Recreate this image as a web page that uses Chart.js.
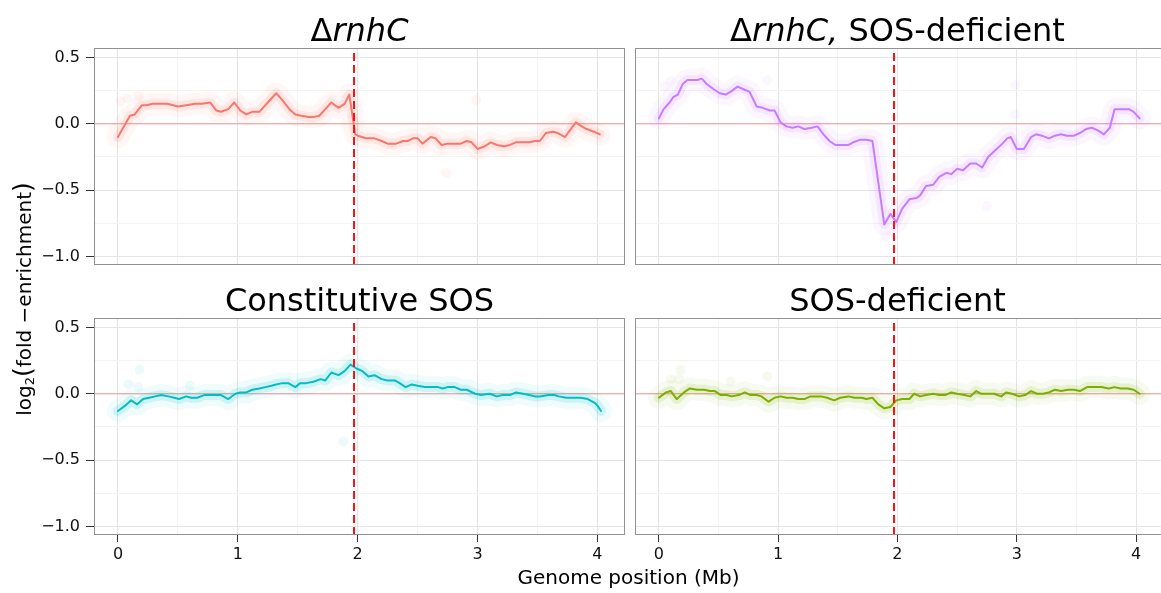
<!DOCTYPE html>
<html>
<head>
<meta charset="utf-8">
<title>log2 fold-enrichment along the genome</title>
<script src="https://cdn.jsdelivr.net/npm/chart.js@4.4.1/dist/chart.umd.min.js"></script>
<style>
  html, body { margin: 0; padding: 0; background: #ffffff; }
  #figure { position: relative; width: 1161px; height: 593px; overflow: hidden; background: #ffffff;
            font-family: "DejaVu Sans", sans-serif; color: #000; }
  #figure canvas { position: absolute; }
  .strip { position: absolute; width: 531px; text-align: center; font-size: 32px; line-height: 32px; white-space: nowrap; }
  #xtitle { position: absolute; left: 94px; width: 1069px; top: 567px; text-align: center;
            font-size: 20px; line-height: 20px; white-space: nowrap; }
  #ytitle { position: absolute; left: -177px; top: 287px; width: 400px; height: 24px; line-height: 24px;
            font-size: 20px; text-align: center; white-space: nowrap; transform: rotate(-90deg); }
  #ytitle sub { font-size: 13px; vertical-align: -3px; }
  #ytitle .paren { font-size: 25px; }
</style>
</head>
<body>
<div id="figure">
  <canvas id="pTL" width="630" height="285" style="left:0;top:0"></canvas>
  <canvas id="pTR" width="540" height="285" style="left:630px;top:0"></canvas>
  <canvas id="pBL" width="630" height="323" style="left:0;top:270px"></canvas>
  <canvas id="pBR" width="540" height="323" style="left:630px;top:270px"></canvas>

  <div class="strip" style="left:94px;top:14px">Δ<i>rnhC</i></div>
  <div class="strip" style="left:632px;top:14px">Δ<i>rnhC,</i> SOS-deficient</div>
  <div class="strip" style="left:94px;top:284px">Constitutive SOS</div>
  <div class="strip" style="left:632px;top:284px">SOS-deficient</div>

  <div id="xtitle">Genome position (Mb)</div>
  <div id="ytitle">log<sub>2</sub><span class="paren">(</span>fold −enrichment<span class="paren">)</span></div>
</div>

<script>
// ---- data: smoothed log2 fold-enrichment along the chromosome (positions in Mb) ----
const rnhC_pos = [0.00,0.10,0.14,0.20,0.24,0.29,0.35,0.41,0.46,0.50,
  0.57,0.64,0.70,0.77,0.82,0.86,0.92,0.97,1.02,1.07,
  1.12,1.18,1.23,1.28,1.32,1.37,1.43,1.48,1.53,1.59,
  1.63,1.68,1.73,1.78,1.84,1.89,1.93,1.98,2.00,2.07,
  2.14,2.20,2.25,2.32,2.38,2.42,2.46,2.50,2.54,2.61,
  2.65,2.70,2.75,2.82,2.86,2.91,2.95,3.00,3.06,3.11,
  3.16,3.22,3.27,3.32,3.38,3.43,3.48,3.52,3.57,3.63,
  3.67,3.73,3.77,3.82,3.87,3.91,3.97,4.02];
const rnhC_log2 = [-0.10,0.06,0.07,0.14,0.14,0.15,0.15,0.15,0.14,0.13,
  0.14,0.15,0.15,0.16,0.10,0.09,0.11,0.16,0.10,0.07,
  0.09,0.09,0.14,0.19,0.23,0.18,0.11,0.07,0.06,0.05,
  0.05,0.06,0.11,0.16,0.12,0.15,0.22,-0.08,-0.09,-0.11,
  -0.11,-0.13,-0.15,-0.15,-0.13,-0.13,-0.11,-0.11,-0.15,-0.10,
  -0.11,-0.16,-0.15,-0.15,-0.15,-0.13,-0.14,-0.19,-0.17,-0.14,
  -0.16,-0.17,-0.16,-0.14,-0.14,-0.14,-0.13,-0.13,-0.07,-0.06,
  -0.07,-0.10,-0.05,0.01,-0.02,-0.04,-0.06,-0.08];
const rnhC_scatter_pos  = [0.02,0.08,0.17,2.99,2.74];
const rnhC_scatter_log2 = [0.17,0.19,0.21,0.18,-0.37];

const rnhCSosDef_pos = [0.00,0.04,0.09,0.12,0.16,0.20,0.24,0.29,0.32,0.36,
  0.40,0.46,0.51,0.56,0.60,0.66,0.71,0.76,0.82,0.87,
  0.93,0.97,1.02,1.07,1.12,1.17,1.22,1.28,1.33,1.38,
  1.43,1.48,1.54,1.59,1.63,1.69,1.74,1.79,1.89,1.94,
  1.99,2.04,2.10,2.16,2.19,2.24,2.30,2.35,2.41,2.45,
  2.50,2.55,2.61,2.66,2.71,2.76,2.82,2.88,2.92,2.95,
  3.00,3.06,3.12,3.16,3.21,3.27,3.32,3.37,3.42,3.48,
  3.53,3.58,3.63,3.68,3.73,3.78,3.82,3.88,3.94,3.98,
  4.03];
const rnhCSosDef_log2 = [0.04,0.11,0.16,0.20,0.22,0.30,0.33,0.33,0.33,0.34,
  0.30,0.26,0.23,0.22,0.24,0.28,0.26,0.24,0.13,0.12,
  0.10,0.10,0.01,-0.02,-0.03,-0.02,-0.04,-0.03,-0.02,-0.08,
  -0.13,-0.16,-0.16,-0.16,-0.14,-0.12,-0.12,-0.13,-0.76,-0.68,
  -0.74,-0.64,-0.57,-0.56,-0.54,-0.47,-0.46,-0.40,-0.37,-0.38,
  -0.34,-0.35,-0.30,-0.30,-0.33,-0.25,-0.20,-0.15,-0.11,-0.10,
  -0.19,-0.19,-0.10,-0.08,-0.09,-0.11,-0.09,-0.08,-0.09,-0.09,
  -0.07,-0.04,-0.03,-0.05,-0.08,-0.03,0.11,0.11,0.11,0.09,
  0.04];
const rnhCSosDef_scatter_pos  = [0.05,0.10,0.91,2.99,2.99,2.75,1.90,1.95];
const rnhCSosDef_scatter_log2 = [0.28,0.32,0.33,0.29,0.07,-0.62,-0.85,-0.82];

const constSos_pos = [0.00,0.06,0.11,0.16,0.21,0.26,0.31,0.36,0.42,0.47,
  0.51,0.57,0.61,0.66,0.72,0.77,0.82,0.86,0.92,0.98,
  1.02,1.07,1.12,1.18,1.23,1.28,1.32,1.37,1.42,1.48,
  1.52,1.57,1.63,1.69,1.73,1.78,1.84,1.89,1.94,1.99,
  2.04,2.09,2.14,2.20,2.25,2.31,2.35,2.40,2.45,2.50,
  2.56,2.61,2.67,2.71,2.75,2.81,2.86,2.91,2.98,3.03,
  3.10,3.16,3.21,3.27,3.32,3.38,3.43,3.48,3.52,3.59,
  3.64,3.68,3.74,3.79,3.86,3.92,3.98,4.00,4.03];
const constSos_log2 = [-0.13,-0.09,-0.05,-0.08,-0.04,-0.03,-0.02,-0.01,-0.02,-0.03,
  -0.04,-0.02,-0.03,-0.03,-0.01,-0.01,-0.01,-0.01,-0.04,0.00,
  0.01,0.01,0.03,0.04,0.05,0.06,0.07,0.08,0.08,0.05,
  0.08,0.08,0.09,0.11,0.10,0.16,0.14,0.17,0.22,0.19,
  0.17,0.13,0.14,0.11,0.10,0.10,0.08,0.05,0.07,0.06,
  0.05,0.05,0.05,0.04,0.05,0.05,0.03,0.03,0.00,-0.01,
  0.00,-0.02,-0.01,-0.01,0.01,0.00,-0.01,-0.02,-0.02,-0.01,
  -0.01,-0.02,-0.03,-0.03,-0.03,-0.04,-0.07,-0.09,-0.13];
const constSos_scatter_pos  = [0.09,0.17,0.18,0.60,1.88];
const constSos_scatter_log2 = [0.07,0.05,0.18,0.06,-0.36];

const sosDef_pos = [0.00,0.06,0.10,0.15,0.21,0.26,0.32,0.38,0.43,0.47,
  0.52,0.57,0.61,0.67,0.72,0.77,0.82,0.86,0.92,0.97,
  1.02,1.07,1.12,1.17,1.22,1.27,1.31,1.36,1.41,1.47,
  1.52,1.59,1.64,1.70,1.74,1.79,1.84,1.89,1.94,1.99,
  2.04,2.10,2.14,2.19,2.24,2.30,2.35,2.40,2.45,2.50,
  2.56,2.61,2.66,2.70,2.75,2.81,2.87,2.91,2.96,3.02,
  3.07,3.12,3.17,3.22,3.27,3.32,3.37,3.43,3.48,3.53,
  3.59,3.64,3.71,3.77,3.82,3.87,3.93,3.98,4.03];
const sosDef_log2 = [-0.03,0.01,0.02,-0.04,0.01,0.04,0.03,0.03,0.02,0.02,
  -0.01,-0.01,-0.02,-0.01,0.01,-0.01,-0.01,-0.02,-0.06,-0.03,
  -0.02,-0.03,-0.03,-0.04,-0.04,-0.02,-0.02,-0.02,-0.03,-0.05,
  -0.03,-0.02,-0.03,-0.03,-0.04,-0.03,-0.08,-0.11,-0.10,-0.05,
  -0.04,-0.04,0.00,-0.02,-0.01,0.00,-0.01,-0.01,0.01,0.00,
  -0.01,-0.02,0.02,0.00,0.00,0.00,-0.02,0.01,0.00,-0.02,
  -0.01,0.02,0.00,0.00,0.01,0.03,0.02,0.03,0.03,0.02,
  0.05,0.05,0.05,0.04,0.05,0.04,0.04,0.03,0.00];
const sosDef_scatter_pos  = [0.10,0.17,0.18,0.60,0.91];
const sosDef_scatter_log2 = [0.11,0.11,0.18,0.09,0.13];

// axis breaks (major + minor) and reference positions
const X_BREAKS = [0, 0.5, 1, 1.5, 2, 2.5, 3, 3.5, 4];
const Y_BREAKS = [-1, -0.75, -0.5, -0.25, 0, 0.25, 0.5];
const X_LIMITS = [-0.2, 4.23];
const Y_LIMITS = [-1.065, 0.571];
const TERMINUS_MB = 1.97;
const NO_CHANGE_LOG2 = 0;

// ---- styling ----
const FONT = '"DejaVu Sans", sans-serif';
const GRID_MAJOR = '#e4e4e4';
const GRID_MINOR = '#f3f3f3';
const TICK_MARK = '#333333';

const isMajorX = v => Math.abs(v - Math.round(v)) < 1e-9;
const isMajorY = v => Math.abs(v * 2 - Math.round(v * 2)) < 1e-9;
const fmtY = v => (v < 0 ? '\u2212' : '') + Math.abs(v).toFixed(1);

// zero reference, terminus marker and panel frame
const panelDecor = {
  id: 'panelDecor',
  beforeDatasetsDraw(chart) {
    const { ctx, chartArea: a, scales } = chart;
    const y0 = scales.y.getPixelForValue(NO_CHANGE_LOG2);
    ctx.save();
    ctx.strokeStyle = 'rgba(240,112,112,0.45)';
    ctx.lineWidth = 1.6;
    ctx.beginPath();
    ctx.moveTo(a.left, y0);
    ctx.lineTo(a.right, y0);
    ctx.stroke();
    ctx.restore();
  },
  afterDatasetsDraw(chart) {
    const { ctx, chartArea: a, scales } = chart;
    const xt = Math.round(scales.x.getPixelForValue(TERMINUS_MB));
    ctx.save();
    ctx.strokeStyle = '#ff1111';
    ctx.lineWidth = 2;
    ctx.setLineDash([8, 4]);
    ctx.beginPath();
    ctx.moveTo(xt, a.bottom);
    ctx.lineTo(xt, a.top);
    ctx.stroke();
    ctx.setLineDash([]);
    ctx.strokeStyle = '#929292';
    ctx.lineWidth = 1;
    const l = Math.round(a.left), t = Math.round(a.top), r = Math.round(a.right), b = Math.round(a.bottom);
    ctx.strokeRect(l + 0.5, t + 0.5, r - l - 1, b - t - 1);
    ctx.restore();
  }
};

const pairs = (xs, ys) => xs.map((x, i) => ({ x, y: ys[i] }));

function drawPanel(canvasId, xs, ys, sx, sy, rgb, cfg) {
  const solid = `rgb(${rgb})`;
  const tint = a => `rgba(${rgb},${a})`;
  const line = pairs(xs, ys);
  return new Chart(document.getElementById(canvasId), {
    type: 'scatter',
    data: {
      datasets: [
        { data: line, showLine: true, borderColor: solid, borderWidth: 2, pointRadius: 0,
          borderJoinStyle: 'round', borderCapStyle: 'round' },
        { data: line, showLine: true, borderColor: tint(0.14), borderWidth: 10, pointRadius: 0,
          borderJoinStyle: 'round', borderCapStyle: 'round' },
        { data: line, showLine: true, borderColor: tint(0.06), borderWidth: 22, pointRadius: 0,
          borderJoinStyle: 'round', borderCapStyle: 'round' },
        { data: pairs(sx, sy), showLine: false, pointRadius: 5, pointBorderWidth: 0,
          pointBackgroundColor: tint(0.07), pointBorderColor: 'rgba(0,0,0,0)' }
      ]
    },
    options: {
      responsive: false,
      devicePixelRatio: 1,
      animation: false,
      events: [],
      layout: { padding: cfg.padding },
      plugins: { legend: { display: false }, tooltip: { enabled: false }, title: { display: false } },
      scales: {
        x: {
          type: 'linear', min: X_LIMITS[0], max: X_LIMITS[1],
          afterBuildTicks: s => { s.ticks = X_BREAKS.map(v => ({ value: v })); },
          afterFit: s => { s.height = cfg.xHeight; },
          border: { display: false },
          grid: {
            color: c => isMajorX(c.tick.value) ? GRID_MAJOR : GRID_MINOR,
            lineWidth: 1,
            drawTicks: cfg.showX,
            tickLength: 7,
            tickWidth: 1,
            tickColor: c => isMajorX(c.tick.value) ? TICK_MARK : 'rgba(0,0,0,0)'
          },
          ticks: {
            display: cfg.showX, autoSkip: false, maxRotation: 0, padding: 3,
            color: '#111', font: { family: FONT, size: 16 },
            callback: v => isMajorX(v) ? String(Math.round(v)) : ''
          }
        },
        y: {
          type: 'linear', min: Y_LIMITS[0], max: Y_LIMITS[1],
          afterBuildTicks: s => { s.ticks = Y_BREAKS.map(v => ({ value: v })); },
          afterFit: s => { s.width = cfg.yWidth; },
          border: { display: false },
          grid: {
            color: c => isMajorY(c.tick.value) ? GRID_MAJOR : GRID_MINOR,
            lineWidth: 1,
            drawTicks: cfg.showY,
            tickLength: 8,
            tickWidth: 1,
            tickColor: c => isMajorY(c.tick.value) ? TICK_MARK : 'rgba(0,0,0,0)'
          },
          ticks: {
            display: cfg.showY, autoSkip: false, padding: 6,
            color: '#111', font: { family: FONT, size: 16 },
            callback: v => isMajorY(v) ? fmtY(v) : ''
          }
        }
      }
    },
    plugins: [panelDecor]
  });
}

const RED = '248,118,109', PURPLE = '199,124,255', CYAN = '0,191,196', GREEN = '124,174,0';

drawPanel('pTL', rnhC_pos, rnhC_log2, rnhC_scatter_pos, rnhC_scatter_log2, RED,
  { padding: { top: 48, left: 0, right: 5, bottom: 0 }, yWidth: 94, xHeight: 20, showX: false, showY: true });
drawPanel('pTR', rnhCSosDef_pos, rnhCSosDef_log2, rnhCSosDef_scatter_pos, rnhCSosDef_scatter_log2, PURPLE,
  { padding: { top: 48, left: 2.5, right: 6.5, bottom: 0 }, yWidth: 0, xHeight: 20, showX: false, showY: false });
drawPanel('pBL', constSos_pos, constSos_log2, constSos_scatter_pos, constSos_scatter_log2, CYAN,
  { padding: { top: 48, left: 0, right: 5, bottom: 0 }, yWidth: 94, xHeight: 58, showX: true, showY: true });
drawPanel('pBR', sosDef_pos, sosDef_log2, sosDef_scatter_pos, sosDef_scatter_log2, GREEN,
  { padding: { top: 48, left: 2.5, right: 6.5, bottom: 0 }, yWidth: 0, xHeight: 58, showX: true, showY: false });
</script>
</body>
</html>
